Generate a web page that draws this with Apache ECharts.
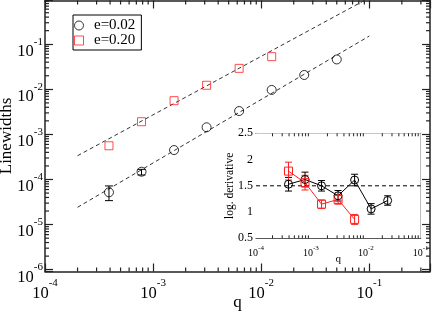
<!DOCTYPE html>
<html><head><meta charset="utf-8">
<script src="https://cdn.jsdelivr.net/npm/echarts@6/dist/echarts.min.js"></script>
<style>html,body{margin:0;padding:0;background:#fff}#c{width:436px;height:311px}</style>
</head><body><div id="c"></div>
<script>
// ---- data ----
const q = [0.000390625, 0.00078125, 0.0015625, 0.003125, 0.00625, 0.0125, 0.025, 0.05];
const widthE002 = [5.2e-5, 1.49e-4, 4.5e-4, 1.44e-3, 3.3e-3, 9.7e-3, 2.08e-2, 4.6e-2];
const errLoE002 = [3.4e-5, 1.26e-4, null, null, null, null, null, null];
const errHiE002 = [7.2e-5, 1.68e-4, null, null, null, null, null, null];
const widthE020 = [5.6e-4, 1.91e-3, 5.6e-3, 1.23e-2, 2.92e-2, 5.3e-2];
const fitQ = [2e-4, 0.1];
const fitE002 = [2.42e-5, 0.152];
const fitE020 = [3.37e-4, 1.07];
const derivE002 = [1.53, 1.62, 1.50, 1.31, 1.61, 1.06, 1.22];
const derivErrE002 = [0.13, 0.14, 0.10, 0.10, 0.11, 0.10, 0.09];
const derivE020 = [1.78, 1.56, 1.15, 1.24, 0.86];
const derivErrE020 = [0.17, 0.14, 0.08, 0.09, 0.095];
const refSlope = 1.5;
const seriesNames = ['e=0.02', 'e=0.20'];
const mainXName = 'q', mainYName = 'Linewidths';
const insetXName = 'q', insetYName = 'log. derivative';

// ---- axis ranges ----
const X_MIN = 1e-4, X_MAX = Math.pow(10, -0.4385);
const Y_MIN = Math.pow(10, -6.04), Y_MAX = Math.pow(10, -0.03);
const IX_MIN = 1e-4, IX_MAX = 1e-1, IY_MIN = 0.5, IY_MAX = 2.5;

const AX = '#222';
const RED = '#ff2020';
const FONT = 'Liberation Serif';

function logMinor(lo, hi) {
  const out = [];
  for (let e = Math.floor(Math.log10(lo)); e <= Math.ceil(Math.log10(hi)); e++) {
    for (let k = 2; k <= 9; k++) {
      const v = k * Math.pow(10, e);
      if (v > lo * 1.0001 && v < hi * 0.9999) out.push(v);
    }
  }
  return out;
}
function powLabel(v) {
  const l = Math.log10(v), e = Math.round(l);
  if (Math.abs(l - e) > 1e-6) return '';
  return '{b|10}{s|' + e + '}';
}
const richMain = {
  b: { fontFamily: FONT, fontSize: 16.5, lineHeight: 24, verticalAlign: 'bottom', color: '#000' },
  s: { fontFamily: FONT, fontSize: 11, lineHeight: 8, verticalAlign: 'top', color: '#000' }
};
const richInset = {
  b: { fontFamily: FONT, fontSize: 10, lineHeight: 14, verticalAlign: 'bottom', color: '#000' },
  s: { fontFamily: FONT, fontSize: 7, lineHeight: 5, verticalAlign: 'top', color: '#000' }
};

function tickSeries(gi, axisDim, values, len, lw, xr, yr) {
  return {
    type: 'custom', xAxisIndex: gi * 2, yAxisIndex: gi * 2, silent: true, clip: false, z: 5,
    data: values.map(v => axisDim === 'x' ? [v, yr[0]] : [xr[0], v]),
    renderItem: function (params, api) {
      const st = { stroke: AX, lineWidth: lw };
      if (axisDim === 'x') {
        const v = api.value(0);
        const b = api.coord([v, yr[0]]), t = api.coord([v, yr[1]]);
        return { type: 'group', children: [
          { type: 'line', shape: { x1: b[0], y1: b[1], x2: b[0], y2: b[1] - len }, style: st },
          { type: 'line', shape: { x1: t[0], y1: t[1], x2: t[0], y2: t[1] + len }, style: st }
        ] };
      } else {
        const v = api.value(1);
        const l = api.coord([xr[0], v]), r = api.coord([xr[1], v]);
        return { type: 'group', children: [
          { type: 'line', shape: { x1: l[0], y1: l[1], x2: l[0] + len, y2: l[1] }, style: st },
          { type: 'line', shape: { x1: r[0], y1: r[1], x2: r[0] - len, y2: r[1] }, style: st }
        ] };
      }
    }
  };
}
function errSeries(gi, rows, color, cap) {
  return {
    type: 'custom', xAxisIndex: gi * 2, yAxisIndex: gi * 2, silent: true, z: 4,
    data: rows,
    renderItem: function (params, api) {
      const x = api.value(0), lo = api.value(2), hi = api.value(3);
      const a = api.coord([x, lo]), b = api.coord([x, hi]);
      const st = { stroke: color, lineWidth: 1 };
      return { type: 'group', children: [
        { type: 'line', shape: { x1: a[0], y1: a[1], x2: b[0], y2: b[1] }, style: st },
        { type: 'line', shape: { x1: a[0] - cap, y1: a[1], x2: a[0] + cap, y2: a[1] }, style: st },
        { type: 'line', shape: { x1: b[0] - cap, y1: b[1], x2: b[0] + cap, y2: b[1] }, style: st }
      ] };
    }
  };
}

const mainErrRows = [];
q.forEach((x, i) => { if (errLoE002[i] != null) mainErrRows.push([x, widthE002[i], errLoE002[i], errHiE002[i]]); });
const inErr002 = derivE002.map((d, i) => [q[i], d, d - derivErrE002[i], d + derivErrE002[i]]);
const inErr020 = derivE020.map((d, i) => [q[i], d, d - derivErrE020[i], d + derivErrE020[i]]);

function logAxis(gi, pos, mn, mx, showLabel, rich, tickLen, lw, margin) {
  return {
    type: 'log', logBase: 10, gridIndex: gi, position: pos, min: mn, max: mx,
    nameMoveOverlap: false,
    axisLine: { show: true, lineStyle: { color: AX, width: lw } },
    axisTick: { show: true, inside: true, length: tickLen, lineStyle: { color: AX, width: lw * 0.8 } },
    axisLabel: { show: showLabel, formatter: powLabel, rich: rich, margin: margin, hideOverlap: false },
    splitLine: { show: false }
  };
}

const xAxes = [
  Object.assign(logAxis(0, 'bottom', X_MIN, X_MAX, true, richMain, 8, 1.5, 6.5), {
    name: mainXName, nameLocation: 'middle', nameGap: 23,
    nameTextStyle: { fontFamily: FONT, fontSize: 17, color: '#000', verticalAlign: 'top' }
  }),
  logAxis(0, 'top', X_MIN, X_MAX, false, richMain, 8, 1.5, 6),
  Object.assign(logAxis(1, 'bottom', IX_MIN, IX_MAX, true, richInset, 5, 1, 6), {
    name: insetXName, nameLocation: 'middle', nameGap: 15,
    nameTextStyle: { fontFamily: FONT, fontSize: 11, color: '#000', verticalAlign: 'top' }
  }),
  logAxis(1, 'top', IX_MIN, IX_MAX, false, richInset, 5, 1, 6)
];
const yMainL = logAxis(0, 'left', Y_MIN, Y_MAX, true, richMain, 8, 1.5, 2);
yMainL.axisLabel.padding = [8, 0, 0, 0];
Object.assign(yMainL, {
  name: mainYName, nameLocation: 'middle', nameGap: 30, nameRotate: 90,
  nameTextStyle: { fontFamily: FONT, fontSize: 17, color: '#000' }
});
function insetY(pos, showLabel) {
  return {
    type: 'value', gridIndex: 1, position: pos, min: IY_MIN, max: IY_MAX, interval: 0.5,
    nameMoveOverlap: false,
    axisLine: { show: true, lineStyle: { color: AX, width: 1 } },
    axisTick: { show: true, inside: true, length: 5, lineStyle: { color: AX, width: 1 } },
    minorTick: { show: true, splitNumber: 2, length: 3, lineStyle: { color: AX, width: 1 } },
    axisLabel: { show: showLabel, margin: 3, fontFamily: FONT, fontSize: 12, color: '#000' },
    splitLine: { show: false }
  };
}
const yInL = insetY('left', true);
Object.assign(yInL, {
  name: insetYName, nameLocation: 'middle', nameGap: 20, nameRotate: 90,
  nameTextStyle: { fontFamily: FONT, fontSize: 11.5, color: '#000' }
});
const yAxes = [yMainL, logAxis(0, 'right', Y_MIN, Y_MAX, false, richMain, 8, 1.5, 3), yInL, insetY('right', false)];

const option = {
  animation: false,
  backgroundColor: '#fff',
  grid: [
    { left: 45, top: 0.5, width: 385, height: 271, outerBoundsMode: 'none', containLabel: false },
    { left: 256, top: 133.3, width: 164.7, height: 105, outerBoundsMode: 'none', containLabel: false,
      show: true, backgroundColor: '#fff', borderWidth: 0, z: 3 }
  ],
  xAxis: xAxes,
  yAxis: yAxes,
  legend: {
    data: [{ name: seriesNames[0], icon: 'circle' }, { name: seriesNames[1], icon: 'path://M0,0H10V10H0Z' }],
    orient: 'vertical', left: 73, top: 15,
    itemWidth: 20, itemHeight: 9, itemGap: 0,
    symbolKeepAspect: true,
    padding: [3, 6, 2, 1],
    borderColor: '#000', borderWidth: 1, backgroundColor: '#fff',
    selectedMode: false,
    itemStyle: { borderWidth: 1 },
    textStyle: { fontFamily: FONT, fontSize: 15, color: '#000', lineHeight: 15 }
  },
  series: [
    { type: 'line', xAxisIndex: 0, yAxisIndex: 0, data: fitQ.map((x, i) => [x, fitE020[i]]), symbol: 'none', silent: true,
      lineStyle: { color: '#333', width: 1, type: [4, 3] }, z: 2 },
    { type: 'line', xAxisIndex: 0, yAxisIndex: 0, data: fitQ.map((x, i) => [x, fitE002[i]]), symbol: 'none', silent: true,
      lineStyle: { color: '#333', width: 1, type: [4, 3] }, z: 2 },
    errSeries(0, mainErrRows, '#000', 4),
    { name: seriesNames[0], type: 'scatter', xAxisIndex: 0, yAxisIndex: 0, symbol: 'circle', symbolSize: 9,
      data: q.map((x, i) => [x, widthE002[i]]),
      itemStyle: { color: 'rgba(0,0,0,0)', borderColor: '#000', borderWidth: 1 }, z: 3 },
    { name: seriesNames[1], type: 'scatter', xAxisIndex: 0, yAxisIndex: 0, symbol: 'rect', symbolSize: 8,
      data: widthE020.map((y, i) => [q[i], y]),
      itemStyle: { color: 'rgba(0,0,0,0)', borderColor: RED, borderWidth: 1 }, z: 3 },
    tickSeries(0, 'x', logMinor(X_MIN, X_MAX), 4, 1.2, [X_MIN, X_MAX], [Y_MIN, Y_MAX]),
    tickSeries(0, 'y', logMinor(Y_MIN, Y_MAX), 4, 1.2, [X_MIN, X_MAX], [Y_MIN, Y_MAX]),
    // inset
    { type: 'line', xAxisIndex: 2, yAxisIndex: 2, data: [[IX_MIN, refSlope], [IX_MAX, refSlope]], symbol: 'none', silent: true,
      lineStyle: { color: '#000', width: 1, type: [4, 3] }, z: 4 },
    errSeries(1, inErr002, '#000', 3.5),
    errSeries(1, inErr020, RED, 3.5),
    { name: 'd002', type: 'line', xAxisIndex: 2, yAxisIndex: 2, data: derivE002.map((d, i) => [q[i], d]),
      symbol: 'circle', symbolSize: 8, showAllSymbol: true,
      lineStyle: { color: '#000', width: 1 }, itemStyle: { color: 'rgba(0,0,0,0)', borderColor: '#000', borderWidth: 1 }, z: 5 },
    { name: 'd020', type: 'line', xAxisIndex: 2, yAxisIndex: 2, data: derivE020.map((d, i) => [q[i], d]),
      symbol: 'rect', symbolSize: 8, showAllSymbol: true,
      lineStyle: { color: RED, width: 1 }, itemStyle: { color: 'rgba(0,0,0,0)', borderColor: RED, borderWidth: 1 }, z: 5 },
    tickSeries(1, 'x', logMinor(IX_MIN, IX_MAX), 3, 1, [IX_MIN, IX_MAX], [IY_MIN, IY_MAX])
  ]
};
const chart = echarts.init(document.getElementById('c'), null, { renderer: 'canvas' });
chart.setOption(option);
</script></body></html>
